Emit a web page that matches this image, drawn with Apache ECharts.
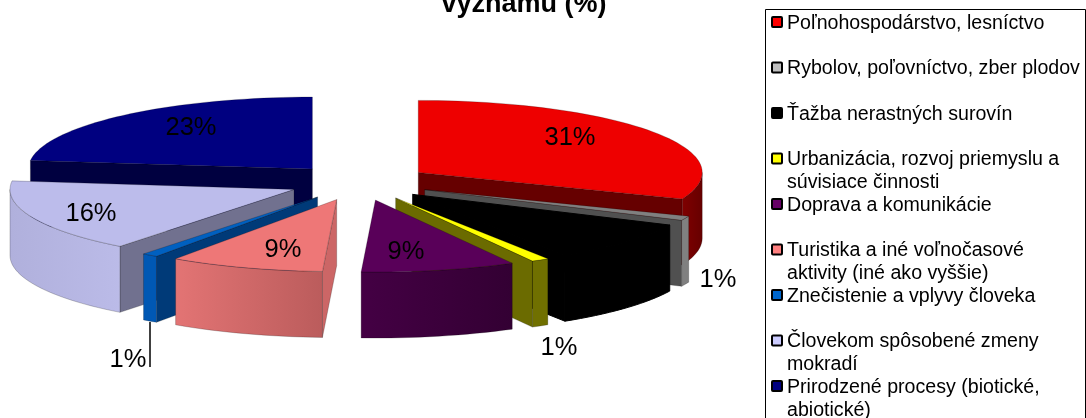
<!DOCTYPE html>
<html>
<head>
<meta charset="utf-8">
<style>
  html, body { margin: 0; padding: 0; background: #fff; }
  #chart { width: 1086px; height: 418px; }
</style>
<script src="https://cdn.jsdelivr.net/npm/echarts@6/dist/echarts.min.js"></script>
</head>
<body>
<div id="chart"></div>
<script>
  // data
  const categories = [
    'Poľnohospodárstvo, lesníctvo',
    'Rybolov, poľovníctvo, zber plodov',
    'Ťažba nerastných surovín',
    'Urbanizácia, rozvoj priemyslu a\nsúvisiace činnosti',
    'Doprava a komunikácie',
    'Turistika a iné voľnočasové\naktivity (iné ako vyššie)',
    'Znečistenie a vplyvy človeka',
    'Človekom spôsobené zmeny\nmokradí',
    'Prirodzené procesy (biotické,\nabiotické)'
  ];
  const values = [31, 1, 9, 1, 8.8, 8.8, 0.9, 16.4, 23.1];
  const titleText = 'významu (%)';

  // colours per slice
  const swatchColors = ['#ff0000', '#c0c0c0', '#000000', '#ffff00', '#660066', '#ff8080', '#0066cc', '#ccccff', '#000080'];
  const topColors = ['#ee0000', '#808080', '#000000', '#ffff00', '#590059', '#ee7777', '#0060c0', '#bcbceb', '#000080'];
  const wallColors = ['#660000', '#505050', '#000000', '#6b6b00', '#330033', '#cc6666', '#003a78', '#71718f', '#000040'];
  const sideFrom = ['#800000', '#808080', '#000000', '#707000', '#440044', '#e37474', '#0058b4', '#b0b0dc', '#000060'];
  const sideTo = ['#660000', '#808080', '#000000', '#707000', '#330033', '#bb5c5c', '#0058b4', '#bbbbe8', '#000060'];

  // pie geometry (3D projection)
  const CX = 359.5, CY = 182.5, RX = 284, RY = 72, DEPTH = 66, EXPLODE = 0.25;
  // label centres, slice order (the black one is black on black like the original)
  const labelSpots = [[570, 138], [718, 280], [600, 265], [559, 348], [406, 252], [283, 250], [128, 360], [91, 214], [191, 128]];

  const total = values.reduce((a, b) => a + b, 0);
  const rad = d => d * Math.PI / 180;
  const starts = [];
  values.reduce((sum, v, i) => { starts[i] = sum; return sum + v; }, 0);

  function arcPts (ox, oy, a0, a1, dy) {
    const pts = [];
    const n = Math.max(2, Math.ceil((a1 - a0) / 2));
    for (let k = 0; k <= n; k++) {
      const a = rad(a0 + (a1 - a0) * k / n);
      pts.push([ox + RX * Math.sin(a), oy - RY * Math.cos(a) + dy]);
    }
    return pts;
  }

  function renderSlice (params, api) {
    const i = api.value(0);
    const a0 = starts[i] / total * 360;
    const a1 = (starts[i] + values[i]) / total * 360;
    const mid = rad((a0 + a1) / 2);
    const ox = CX + EXPLODE * RX * Math.sin(mid);
    const oy = CY - EXPLODE * RY * Math.cos(mid);
    const edge = topColors[i] === '#000000'
      ? { stroke: '#000', lineWidth: 1 }
      : { stroke: 'rgba(0,0,0,0.35)', lineWidth: 0.6 };
    const children = [];
    const poly = (points, fill) => children.push({
      type: 'polygon',
      shape: { points: points },
      style: Object.assign({ fill: fill }, edge)
    });
    const wall = a => {
      const p = arcPts(ox, oy, a, a, 0)[0];
      poly([[ox, oy], p, [p[0], p[1] + DEPTH], [ox, oy + DEPTH]], wallColors[i]);
    };
    if (a0 > 180) wall(a0);
    if (a1 < 180) wall(a1);
    const s0 = Math.max(a0, 90), s1 = Math.min(a1, 270);
    if (s1 > s0) {
      const front = arcPts(ox, oy, s0, s1, 0);
      const back = arcPts(ox, oy, s0, s1, DEPTH).reverse();
      poly(front.concat(back), new echarts.graphic.LinearGradient(0, 0, 1, 0, [
        { offset: 0, color: sideFrom[i] },
        { offset: 1, color: sideTo[i] }
      ]));
    }
    poly([[ox, oy]].concat(arcPts(ox, oy, a0, a1, 0)), topColors[i]);
    return { type: 'group', children: children };
  }

  function renderLabel (params, api) {
    const i = api.value(0);
    const spot = labelSpots[i];
    const children = [{
      type: 'text',
      x: spot[0],
      y: spot[1],
      style: {
        text: Math.round(values[i]) + '%',
        fill: '#000',
        font: '25.5px "Liberation Sans", Arial, sans-serif',
        align: 'center',
        verticalAlign: 'middle'
      }
    }];
    if (i === 6) { // only the blue slice has a leader line
      children.push({
        type: 'line',
        shape: { x1: 150, y1: 322, x2: 150, y2: 367 },
        style: { stroke: '#000', lineWidth: 1.5 }
      });
    }
    return { type: 'group', children: children };
  }

  // back to front, by how far the slice moved towards the viewer
  const drawOrder = values.map((v, i) => i).sort((p, q) => {
    const m = i => (starts[i] + values[i] / 2) / total * 2 * Math.PI;
    return Math.cos(m(q)) - Math.cos(m(p));
  });

  // legend, every entry takes two lines of space
  const legendX = 765.5, legendY = 9.5, legendW = 320, lineH = 22.75;
  const legendEls = [{
    type: 'rect',
    shape: { x: legendX, y: legendY, width: legendW, height: 420 },
    style: { fill: '#fff', stroke: '#000', lineWidth: 1 }
  }];
  categories.forEach((name, i) => {
    const y = 23 + i * 2 * lineH;
    legendEls.push({
      type: 'rect',
      shape: { x: 772, y: y - 6, width: 10, height: 10, r: 1 },
      style: { fill: swatchColors[i], stroke: '#000', lineWidth: 2 }
    });
    legendEls.push({
      type: 'text',
      x: 787,
      y: y - 11,
      style: {
        text: name,
        fill: '#000',
        font: '19.6px "Liberation Sans", Arial, sans-serif',
        lineHeight: lineH,
        verticalAlign: 'top'
      }
    });
  });

  const chart = echarts.init(document.getElementById('chart'));
  chart.setOption({
    animation: false,
    backgroundColor: '#fff',
    title: {
      text: titleText,
      left: 519,
      top: -14,
      textAlign: 'center',
      textStyle: { fontFamily: '"Liberation Sans", Arial, sans-serif', fontSize: 27, fontWeight: 'bold', color: '#000' }
    },
    graphic: legendEls,
    series: [
      {
        type: 'custom',
        coordinateSystem: 'none',
        renderItem: renderSlice,
        data: drawOrder.map(i => ({ name: categories[i], value: [i, values[i]] }))
      },
      {
        type: 'custom',
        coordinateSystem: 'none',
        z: 5,
        renderItem: renderLabel,
        data: values.map((v, i) => ({ name: categories[i], value: [i, v] }))
      }
    ]
  });
</script>
</body>
</html>
